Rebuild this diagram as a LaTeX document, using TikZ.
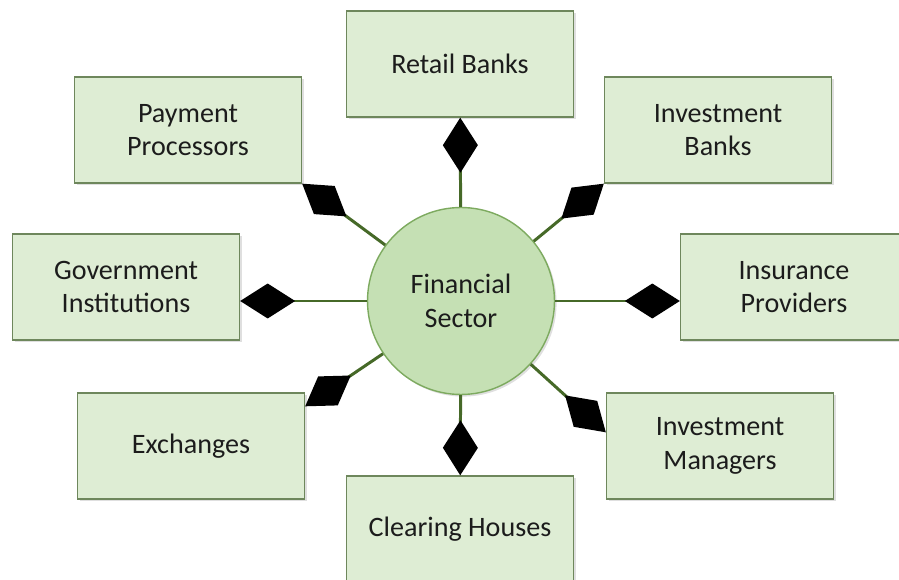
\documentclass[tikz,border=0pt]{standalone}
\usepackage{fontspec}
\setmainfont{Carlito}
\usetikzlibrary{positioning, arrows.meta, shadows, calc}
\definecolor{boxfill}{RGB}{222,237,212}
\definecolor{boxline}{RGB}{110,135,92}
\definecolor{hubfill}{RGB}{197,224,180}
\definecolor{hubline}{RGB}{125,170,95}
\definecolor{linkgreen}{RGB}{70,105,40}
\definecolor{labeltext}{RGB}{28,28,28}
\tikzset{
x=0.02cm, y=-0.02cm, % one unit is one pixel of the sketch
every node/.style={font=\fontsize{16}{19}\selectfont, text=labeltext, align=center},
sector/.style={rectangle, draw=boxline, thick, fill=boxfill, minimum width=4.54cm, minimum height=2.12cm,
  drop shadow={opacity=0.25, shadow xshift=1.2pt, shadow yshift=-1.2pt}}, % the boxes round the hub
hub/.style={circle, draw=hubline, thick, fill=hubfill, minimum size=3.74cm,
  drop shadow={opacity=0.25, shadow xshift=1.2pt, shadow yshift=-1.2pt}}, % the centre circle
link/.style={draw=linkgreen, line width=1.7pt, -{Diamond[length=1.1cm, width=0.7cm, black]}}, % diamond at the box end
}

\begin{document}
\begin{tikzpicture}
    \useasboundingbox (0,0) rectangle (899,580);
    \node[hub] (fs) at (461,301) {Financial\\Sector};
    \node[sector] (rb) at (460,64) {Retail Banks};
    \node[sector] (pp) at (188,130) {Payment\\Processors};
    \node[sector] (ib) at (718,130) {Investment\\Banks};
    \node[sector] (gi) at (126,287) {Government\\Institutions};
    \node[sector] (ip) at (794,287) {Insurance\\Providers};
    \node[sector] (ex) at (191,446) {Exchanges};
    \node[sector] (im) at (720,446) {Investment\\Managers};
    \node[sector] (ch) at (460,529) {Clearing Houses};
    \draw (fs) edge[link] (rb)
    (fs) edge[link] (pp.south east)
    (fs) edge[link] (ib.south west)
    (fs) edge[link] (fs.west -| gi.east)
    (fs) edge[link] (fs.east -| ip.west)
    (fs) edge[link] ($(ex.north east)+(0,14)$)
    (fs) edge[link] ($(im.north west)+(0,40)$)
    (fs) edge[link] (ch);
\end{tikzpicture}
\end{document}
